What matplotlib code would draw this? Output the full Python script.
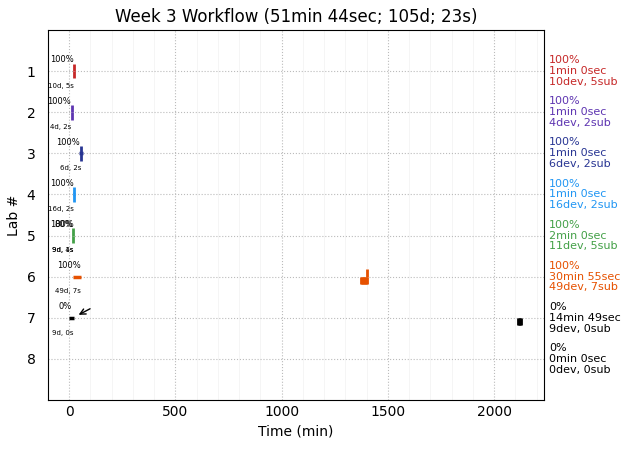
import matplotlib
matplotlib.use('Agg')
import matplotlib.pyplot as plt
from matplotlib.ticker import MultipleLocator

labs = [1, 2, 3, 4, 5, 6, 7, 8]
colors = ['#c62828', '#5e35b1', '#283593', '#2196f3', '#43a047', '#e65100', 'black', 'black']

# work span per lab (start, end) in minutes
span_start = [24, 14, 47, 20, 19, 19, 0, None]
span_end = [24, 14, 66, 27, 19, 57, 24, None]

# dev events (drawn below the lab line) and submissions (above)
dev_times = [[24], [14], [57], [24], [19], [1373, 1378, 1383, 1388, 1393, 1398, 1401], [2113, 2118, 2123, 2128], []]
sub_times = [[24], [14], [57], [24], [19], [1401], [], []]

pct_labels = [['100%'], ['100%'], ['100%'], ['100%'], ['100%', '80%'], ['100%'], ['0%'], []]
pct_x = [[20], [8], [50], [20], [20, 16], [56], [12], []]
count_labels = [['10d, 5s'], ['4d, 2s'], ['6d, 2s'], ['16d, 2s'], ['9d, 4s', '9d, 1s'], ['49d, 7s'], ['9d, 0s'], []]
count_x = [[24], [10], [56], [24], [20, 20], [56], [20], []]

summary_pct = ['100%', '100%', '100%', '100%', '100%', '100%', '0%', '0%']
summary_time = ['1min 0sec', '1min 0sec', '1min 0sec', '1min 0sec', '2min 0sec', '30min 55sec', '14min 49sec', '0min 0sec']
summary_counts = ['10dev, 5sub', '4dev, 2sub', '6dev, 2sub', '16dev, 2sub', '11dev, 5sub', '49dev, 7sub', '9dev, 0sub', '0dev, 0sub']

fig, ax = plt.subplots(figsize=(6.3, 4.53), dpi=100)

for i, lab in enumerate(labs):
    c = colors[i]
    if span_start[i] is not None:
        ax.plot([span_start[i], span_end[i]], [lab, lab], color=c, lw=2.5, solid_capstyle='butt')
    for t in dev_times[i]:
        ax.plot([t, t], [lab, lab + 0.18], color=c, lw=2, solid_capstyle='butt')
    for t in sub_times[i]:
        ax.plot([t, t], [lab - 0.18, lab], color=c, lw=2, solid_capstyle='butt')
    for txt, x in zip(pct_labels[i], pct_x[i]):
        ax.text(x, lab - 0.27, txt, fontsize=6, ha='right', va='center')
    for txt, x in zip(count_labels[i], count_x[i]):
        ax.text(x, lab + 0.36, txt, fontsize=5, ha='right', va='center')
    ax.text(1.01, lab, summary_pct[i] + '\n' + summary_time[i] + '\n' + summary_counts[i],
            transform=ax.get_yaxis_transform(), color=c, fontsize=8, va='center', ha='left',
            linespacing=1.1)

ax.annotate('', xy=(33, 6.96), xytext=(110, 6.75),
            arrowprops=dict(arrowstyle='->', color='black', lw=1))

ax.set_xlim(-100, 2236)
ax.set_ylim(9, 0)
ax.set_yticks(labs)
ax.xaxis.set_minor_locator(MultipleLocator(100))
ax.grid(True, which='major', linestyle=':', color='#bbbbbb')
ax.grid(True, which='minor', axis='x', linestyle='-', color='#f4f4f4', lw=0.6)
ax.tick_params(length=0, which='both')
ax.tick_params(axis='y', pad=9)
ax.set_xlabel('Time (min)')
ax.set_ylabel('Lab #')
ax.set_title('Week 3 Workflow (51min 44sec; 105d; 23s)')

plt.subplots_adjust(left=0.076, right=0.864, top=0.934, bottom=0.117)
plt.savefig('out.png', dpi=100)
